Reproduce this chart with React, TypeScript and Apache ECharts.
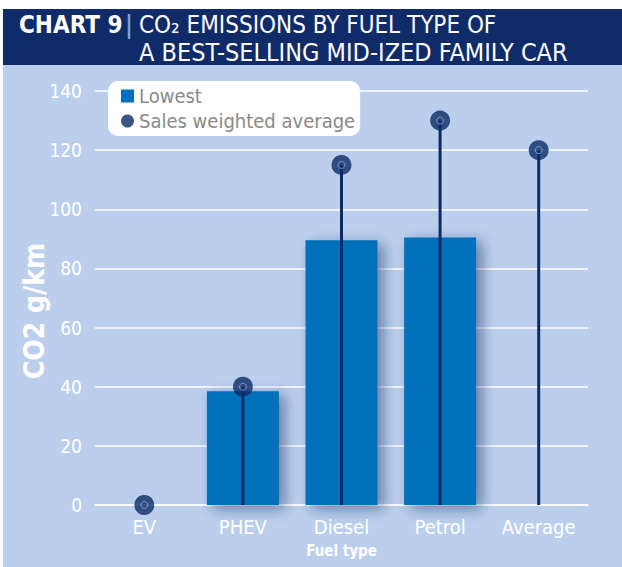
import React, { useEffect, useRef } from "react";
import * as echarts from "echarts";

const categories = ["EV", "PHEV", "Diesel", "Petrol", "Average"];
const lowest = [null, 38.5, 89.5, 90.5, null];
const salesWeighted = [0, 40, 115, 130, 120];
const yTicks = { min: 0, max: 140, interval: 20 };

const NAVY = "#0c2b66";
const BAR = "#006fbb";
const BG = "#bbcfec";
const FONT = "'Liberation Sans Narrow', 'DejaVu Sans Condensed', 'Liberation Sans', sans-serif";

export default function App() {
  const ref = useRef<HTMLDivElement>(null);
  useEffect(() => {
    document.body.style.margin = "0";
    const chart = echarts.init(ref.current!, null, { renderer: "svg" });
    chart.setOption({
      animation: false,
      backgroundColor: "#ffffff",
      textStyle: { fontFamily: FONT },
      graphic: [
        { type: "rect", z: -10, shape: { x: 3, y: 9, width: 619, height: 56 }, style: { fill: "#0f2b68" } },
        { type: "rect", z: -10, shape: { x: 3, y: 65, width: 619, height: 502 }, style: { fill: BG } },
        {
          type: "text", x: 19, y: 25, z: 10,
          style: { text: "CHART 9", fontFamily: FONT, fontWeight: "bold", fontSize: 24, fill: "#ffffff", verticalAlign: "middle" },
        },
        {
          type: "text", x: 125, y: 25, z: 10,
          style: { text: "|", fontFamily: FONT, fontWeight: "bold", fontSize: 24, fill: "#7ea3dc", verticalAlign: "middle" },
        },
        {
          type: "text", x: 139, y: 25, z: 10,
          style: { text: "CO₂ EMISSIONS BY FUEL TYPE OF", fontFamily: FONT, fontSize: 24, fill: "#ffffff", verticalAlign: "middle" },
        },
        {
          type: "text", x: 139, y: 52, z: 10,
          style: { text: "A BEST-SELLING MID-IZED FAMILY CAR", fontFamily: FONT, fontSize: 25, fill: "#ffffff", verticalAlign: "middle" },
        },
      ],
      legend: {
        left: 108, top: 81, orient: "vertical",
        backgroundColor: "#ffffff", borderRadius: 10,
        padding: [5, 5, 5, 13], itemGap: 5, itemWidth: 13, itemHeight: 13,
        textStyle: { color: "#8a8a8a", fontSize: 20, fontFamily: FONT },
        data: [
          { name: "Lowest", icon: "rect" },
          { name: "Sales weighted average", icon: "circle" },
        ],
      },
      grid: { left: 95, right: 34, top: 91, bottom: 62 },
      xAxis: {
        type: "category", data: categories,
        name: "Fuel type", nameLocation: "middle", nameGap: 38,
        nameTextStyle: { color: "#ffffff", fontWeight: "bold", fontSize: 15, fontFamily: FONT },
        axisLine: { lineStyle: { color: "#ffffff", width: 1.5 } },
        axisTick: { alignWithLabel: true, length: 7, lineStyle: { color: "#ffffff" } },
        axisLabel: { color: "#ffffff", fontSize: 20, margin: 12, fontFamily: FONT },
      },
      yAxis: {
        type: "value", ...yTicks,
        name: "CO2 g/km", nameLocation: "middle", nameGap: 47, nameRotate: 90,
        nameMoveOverlap: false,
        nameTextStyle: { color: "#ffffff", fontWeight: "bold", fontSize: 28, fontFamily: FONT, padding: [0, 26, 0, 0] },
        axisLine: { show: false }, axisTick: { show: false },
        axisLabel: { color: "#ffffff", fontSize: 19, margin: 13, fontFamily: FONT },
        splitLine: { lineStyle: { color: "#ffffff", width: 1.5 } },
      },
      series: [
        {
          name: "Lowest", type: "bar", data: lowest, barWidth: "73%", z: 2,
          itemStyle: {
            color: BAR, shadowBlur: 14, shadowOffsetX: 6, shadowOffsetY: 4,
            shadowColor: "rgba(20,40,100,0.5)",
          },
        },
        {
          name: "stem", type: "custom", z: 3, clip: false,
          data: salesWeighted.map((v, i) => [i, v]),
          renderItem: (params: any, api: any) => {
            const b = api.coord([api.value(0), 0]);
            const t = api.coord([api.value(0), api.value(1)]);
            return {
              type: "line",
              shape: { x1: b[0], y1: b[1], x2: t[0], y2: t[1] },
              style: { stroke: NAVY, lineWidth: 3 },
            };
          },
        },
        {
          name: "Sales weighted average", type: "scatter", data: salesWeighted,
          symbol: "circle", symbolSize: 20, z: 4, clip: false,
          itemStyle: { color: NAVY },
        },
        {
          name: "inner", type: "scatter", data: salesWeighted,
          symbol: "circle", symbolSize: 7, z: 5, clip: false, silent: true,
          itemStyle: { color: "rgba(0,0,0,0)", borderColor: "#8fa8d8", borderWidth: 1 },
        },
      ],
    });
    return () => chart.dispose();
  }, []);
  return <div ref={ref} style={{ width: 622, height: 567 }} />;
}
